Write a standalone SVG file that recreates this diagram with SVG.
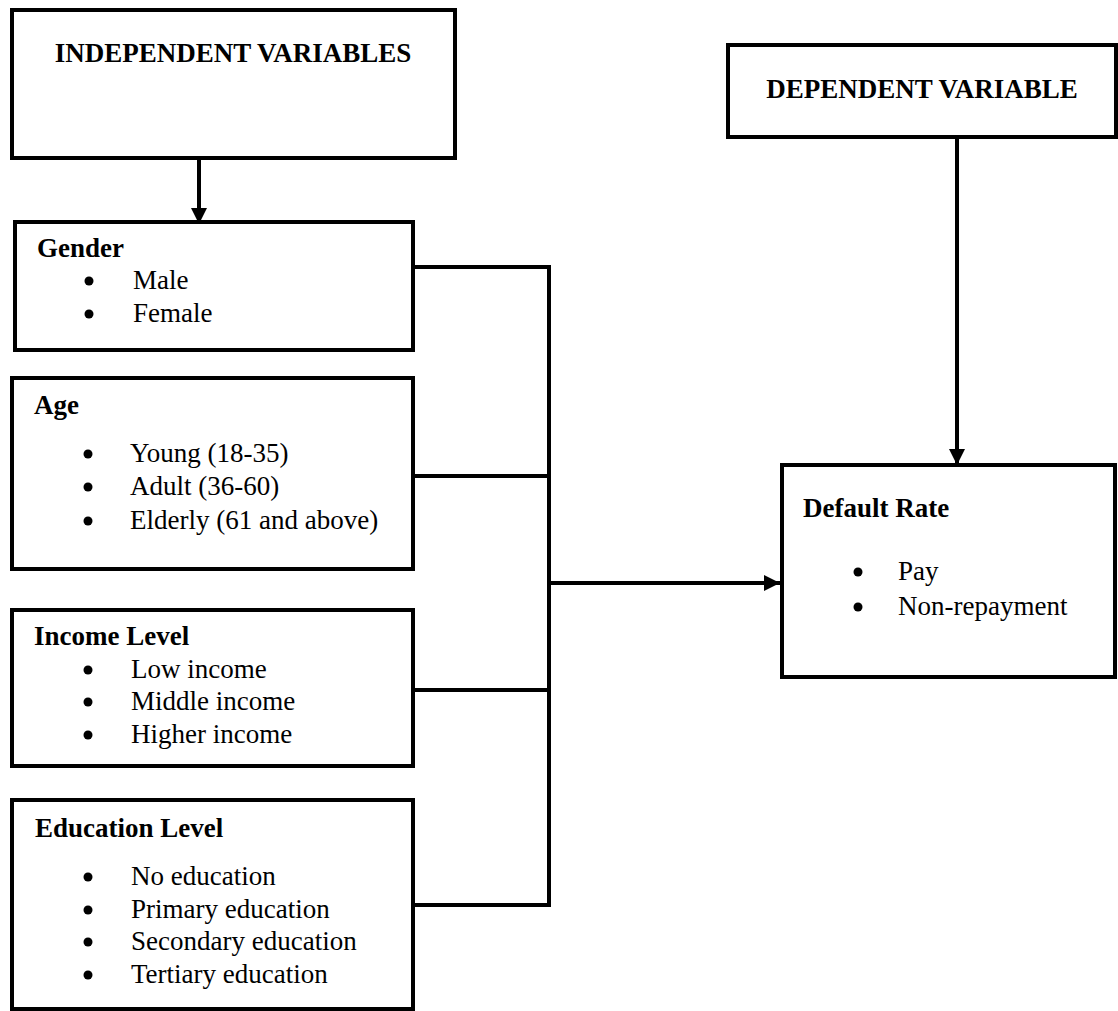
<svg xmlns="http://www.w3.org/2000/svg" width="1118" height="1011" viewBox="0 0 1118 1011">
<style>
.box{fill:#fff;stroke:#000;stroke-width:4}
.t{font-family:"Liberation Serif","Times New Roman",serif;font-size:27px;fill:#000}
.b{font-weight:bold}
.c{fill:none;stroke:#000;stroke-width:4}
.dot{fill:#000}
</style>
<defs>
<marker id="ah" viewBox="0 0 16 16" refX="16" refY="8" markerWidth="16" markerHeight="16" markerUnits="userSpaceOnUse" orient="auto">
<path d="M0,0 L16,8 L0,16 Z" fill="#000"/>
</marker>
</defs>
<g id="connectors">
<line class="c" x1="199" y1="158" x2="199" y2="224" marker-end="url(#ah)"/>
<line class="c" x1="957" y1="137" x2="957" y2="465" marker-end="url(#ah)"/>
<polyline class="c" points="413,267 549,267 549,905 413,905"/>
<line class="c" x1="413" y1="476" x2="549" y2="476"/>
<line class="c" x1="413" y1="690" x2="549" y2="690"/>
<line class="c" x1="549" y1="583" x2="780" y2="583" marker-end="url(#ah)"/>
</g>
<g id="independent">
<rect class="box" x="12" y="10" width="443" height="148"/>
<text class="t b" x="233" y="62" text-anchor="middle">INDEPENDENT VARIABLES</text>
</g>
<g id="dependent">
<rect class="box" x="728" y="45" width="388" height="92"/>
<text class="t b" x="922" y="98" text-anchor="middle">DEPENDENT VARIABLE</text>
</g>
<g id="gender">
<rect class="box" x="15" y="222" width="398" height="128"/>
<text class="t b" x="37" y="257">Gender</text>
<circle class="dot" cx="89" cy="281" r="4.5"/>
<text class="t" x="133" y="289">Male</text>
<circle class="dot" cx="89" cy="314" r="4.5"/>
<text class="t" x="133" y="322">Female</text>
</g>
<g id="age">
<rect class="box" x="12" y="378" width="401" height="191"/>
<text class="t b" x="34" y="414">Age</text>
<circle class="dot" cx="88" cy="454" r="4.5"/>
<text class="t" x="130" y="462">Young (18-35)</text>
<circle class="dot" cx="88" cy="487" r="4.5"/>
<text class="t" x="130" y="495">Adult (36-60)</text>
<circle class="dot" cx="88" cy="521" r="4.5"/>
<text class="t" x="130" y="529">Elderly (61 and above)</text>
</g>
<g id="income">
<rect class="box" x="12" y="610" width="401" height="156"/>
<text class="t b" x="34" y="645">Income Level</text>
<circle class="dot" cx="88" cy="670" r="4.5"/>
<text class="t" x="131" y="678">Low income</text>
<circle class="dot" cx="88" cy="702" r="4.5"/>
<text class="t" x="131" y="710">Middle income</text>
<circle class="dot" cx="88" cy="735" r="4.5"/>
<text class="t" x="131" y="743">Higher income</text>
</g>
<g id="education">
<rect class="box" x="12" y="800" width="401" height="209"/>
<text class="t b" x="35" y="837">Education Level</text>
<circle class="dot" cx="88" cy="877" r="4.5"/>
<text class="t" x="131" y="885">No education</text>
<circle class="dot" cx="88" cy="910" r="4.5"/>
<text class="t" x="131" y="918">Primary education</text>
<circle class="dot" cx="88" cy="942" r="4.5"/>
<text class="t" x="131" y="950">Secondary education</text>
<circle class="dot" cx="88" cy="975" r="4.5"/>
<text class="t" x="131" y="983">Tertiary education</text>
</g>
<g id="default-rate">
<rect class="box" x="782" y="465" width="333" height="212"/>
<text class="t b" x="803" y="517">Default Rate</text>
<circle class="dot" cx="858" cy="572" r="4.5"/>
<text class="t" x="898" y="580">Pay</text>
<circle class="dot" cx="858" cy="607" r="4.5"/>
<text class="t" x="898" y="615">Non-repayment</text>
</g>
</svg>
